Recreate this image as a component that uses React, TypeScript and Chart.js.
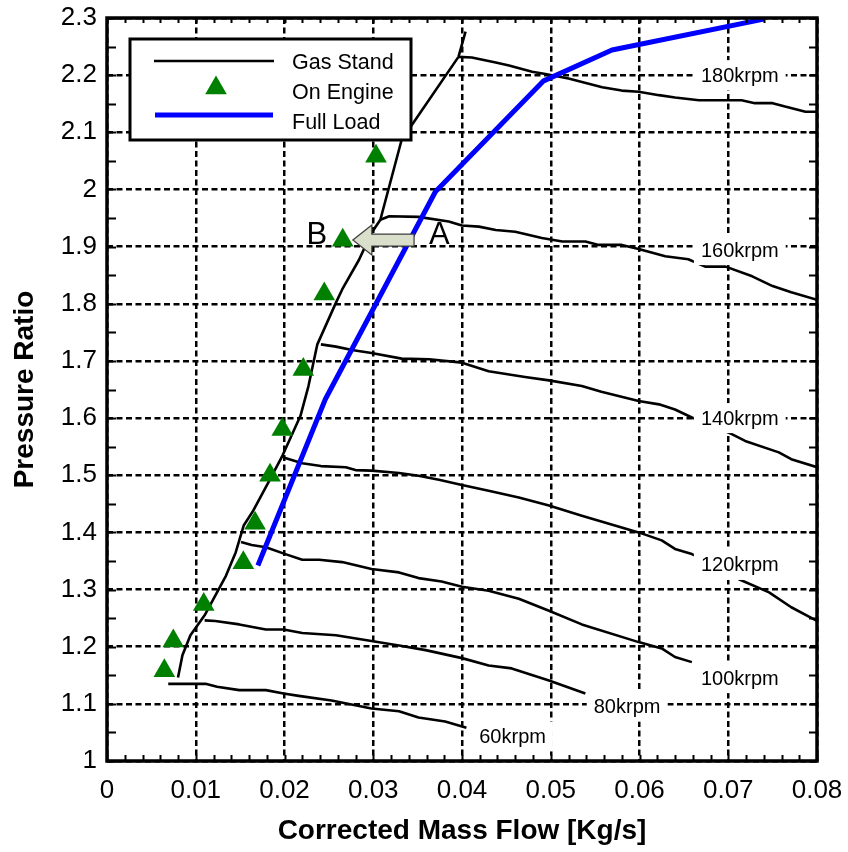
import React, { useEffect, useRef } from 'react';
import { Chart, registerables } from 'chart.js';

Chart.register(...registerables);

const FONT = '"Liberation Sans", Arial, Helvetica, sans-serif';

// ---- Data (x = corrected mass flow [kg/s], y = pressure ratio) ----
const surgeLine: [number, number][] = [
  [0.0080, 1.146], [0.0085, 1.185], [0.0094, 1.220], [0.0110, 1.255], [0.0134, 1.324],
  [0.0145, 1.365], [0.0154, 1.412], [0.0164, 1.436], [0.0182, 1.488], [0.0197, 1.532],
  [0.0218, 1.604], [0.0227, 1.656], [0.0237, 1.729], [0.0258, 1.802], [0.0265, 1.825],
  [0.0284, 1.877], [0.0298, 1.924], [0.0308, 1.947], [0.0332, 2.087], [0.0340, 2.105],
  [0.0396, 2.232], [0.0404, 2.276],
];

const speed60: [number, number][] = [
  [0.0069, 1.135], [0.0111, 1.135], [0.0124, 1.130], [0.0149, 1.124], [0.0179, 1.124],
  [0.0199, 1.118], [0.0216, 1.114], [0.0253, 1.106], [0.0298, 1.092], [0.0329, 1.087],
  [0.0351, 1.076], [0.0381, 1.069], [0.0405, 1.058],
];

const speed80: [number, number][] = [
  [0.0110, 1.246], [0.0122, 1.245], [0.0149, 1.239], [0.0179, 1.230], [0.0199, 1.230],
  [0.0220, 1.224], [0.0258, 1.220], [0.0298, 1.210], [0.0329, 1.202], [0.0359, 1.194],
  [0.0400, 1.180], [0.0430, 1.167], [0.0456, 1.162], [0.0498, 1.141], [0.0539, 1.118],
];

const speed100: [number, number][] = [
  [0.0151, 1.383], [0.0163, 1.378], [0.0179, 1.374], [0.0201, 1.362], [0.0220, 1.352],
  [0.0239, 1.352], [0.0265, 1.348], [0.0298, 1.336], [0.0329, 1.330], [0.0351, 1.320],
  [0.0377, 1.314], [0.0400, 1.305], [0.0430, 1.298], [0.0464, 1.284], [0.0498, 1.263],
  [0.0535, 1.239], [0.0599, 1.208], [0.0625, 1.197], [0.0640, 1.182], [0.0659, 1.173],
];

const speed120: [number, number][] = [
  [0.0199, 1.531], [0.0220, 1.521], [0.0241, 1.516], [0.0269, 1.514], [0.0280, 1.509],
  [0.0298, 1.508], [0.0329, 1.504], [0.0351, 1.499], [0.0374, 1.492], [0.0400, 1.483],
  [0.0430, 1.473], [0.0464, 1.461], [0.0498, 1.447], [0.0535, 1.429], [0.0599, 1.400],
  [0.0625, 1.386], [0.0640, 1.371], [0.0659, 1.362], [0.0690, 1.340], [0.0712, 1.318],
  [0.0746, 1.295], [0.0771, 1.269], [0.0800, 1.245],
];

const speed140: [number, number][] = [
  [0.0241, 1.729], [0.0258, 1.725], [0.0276, 1.719], [0.0298, 1.714], [0.0332, 1.704],
  [0.0363, 1.703], [0.0400, 1.697], [0.0430, 1.682], [0.0471, 1.672], [0.0498, 1.666],
  [0.0535, 1.656], [0.0557, 1.646], [0.0599, 1.630], [0.0622, 1.624], [0.0640, 1.615],
  [0.0659, 1.601], [0.0685, 1.585], [0.0704, 1.572], [0.0719, 1.560], [0.0757, 1.540],
  [0.0771, 1.528], [0.0800, 1.514],
];

const speed160: [number, number][] = [
  [0.0308, 1.947], [0.0318, 1.953], [0.0351, 1.952], [0.0385, 1.944], [0.0400, 1.937],
  [0.0419, 1.935], [0.0438, 1.929], [0.0460, 1.926], [0.0490, 1.915], [0.0513, 1.909],
  [0.0539, 1.909], [0.0554, 1.903], [0.0580, 1.903], [0.0599, 1.896], [0.0629, 1.883],
  [0.0655, 1.878], [0.0674, 1.865], [0.0697, 1.865], [0.0727, 1.848], [0.0750, 1.831],
  [0.0771, 1.820], [0.0800, 1.807],
];

const speed180: [number, number][] = [
  [0.0396, 2.232], [0.0411, 2.231], [0.0438, 2.222], [0.0453, 2.217], [0.0479, 2.206],
  [0.0494, 2.202], [0.0520, 2.194], [0.0558, 2.179], [0.0580, 2.173], [0.0599, 2.171],
  [0.0622, 2.165], [0.0640, 2.161], [0.0667, 2.156], [0.0715, 2.156], [0.0730, 2.151],
  [0.0750, 2.151], [0.0764, 2.145], [0.0787, 2.136], [0.0800, 2.136],
];

const fullLoad: [number, number][] = [
  [0.0170, 1.342], [0.0246, 1.633], [0.0370, 1.996], [0.0492, 2.190], [0.0569, 2.244], [0.0740, 2.298],
];

const onEngine: [number, number][] = [
  [0.00646, 1.158], [0.00747, 1.210], [0.0109, 1.274], [0.01536, 1.347], [0.01668, 1.416],
  [0.01837, 1.500], [0.01975, 1.580], [0.02212, 1.685], [0.02448, 1.817], [0.02656, 1.911],
  [0.03031, 2.058],
];

const speedLabels = ['180krpm', '160krpm', '140krpm', '120krpm', '100krpm', '80krpm', '60krpm'];
const speedLabelX = [0.0713, 0.0713, 0.0713, 0.0713, 0.0713, 0.0586, 0.0457];
const speedLabelY = [2.2, 1.894, 1.6, 1.343, 1.145, 1.095, 1.043];

const pointLabels = ['B', 'A'];
const pointLabelX = [0.02365, 0.03745];
const pointLabelY = [1.921, 1.921];

const arrowTail = [0.0346, 1.9115];
const arrowTip = [0.0277, 1.9115];

const legendLabels = ['Gas Stand', 'On Engine', 'Full Load'];

const toXY = (pts: [number, number][]) => pts.map(([x, y]) => ({ x, y }));

function drawTriangle(ctx: CanvasRenderingContext2D, cx: number, cy: number, r: number) {
  ctx.beginPath();
  let rad = 0;
  ctx.moveTo(cx + Math.sin(rad) * r, cy - Math.cos(rad) * r);
  rad += (2 * Math.PI) / 3;
  ctx.lineTo(cx + Math.sin(rad) * r, cy - Math.cos(rad) * r);
  rad += (2 * Math.PI) / 3;
  ctx.lineTo(cx + Math.sin(rad) * r, cy - Math.cos(rad) * r);
  ctx.closePath();
  ctx.fill();
}

const overlayPlugin = {
  id: 'overlay',
  afterDatasetsDraw(chart: any) {
    const { ctx, chartArea: ca, scales } = chart;
    const xs = scales.x;
    const ys = scales.y;
    ctx.save();

    // speed labels with white background
    ctx.font = `20px ${FONT}`;
    ctx.textAlign = 'center';
    ctx.textBaseline = 'middle';
    speedLabels.forEach((t, i) => {
      const px = xs.getPixelForValue(speedLabelX[i]);
      const py = ys.getPixelForValue(speedLabelY[i]);
      const w = ctx.measureText(t).width + 14;
      const h = 30;
      ctx.fillStyle = '#ffffff';
      ctx.fillRect(px - w / 2, py - h / 2, w, h);
      ctx.fillStyle = '#000000';
      ctx.fillText(t, px, py + 1);
    });

    // arrow A -> B
    const tx = xs.getPixelForValue(arrowTip[0]);
    const ty = ys.getPixelForValue(arrowTip[1]);
    const sx = xs.getPixelForValue(arrowTail[0]);
    const headLen = 19;
    const headHalf = 15;
    const shaftHalf = 6;
    ctx.beginPath();
    ctx.moveTo(tx, ty);
    ctx.lineTo(tx + headLen, ty - headHalf);
    ctx.lineTo(tx + headLen, ty - shaftHalf);
    ctx.lineTo(sx, ty - shaftHalf);
    ctx.lineTo(sx, ty + shaftHalf);
    ctx.lineTo(tx + headLen, ty + shaftHalf);
    ctx.lineTo(tx + headLen, ty + headHalf);
    ctx.closePath();
    ctx.fillStyle = '#d9dfca';
    ctx.fill();
    ctx.lineWidth = 1.2;
    ctx.strokeStyle = '#3c3c3c';
    ctx.stroke();

    // A / B letters
    ctx.font = `31px ${FONT}`;
    ctx.fillStyle = '#000';
    pointLabels.forEach((t, i) => {
      ctx.fillText(t, xs.getPixelForValue(pointLabelX[i]), ys.getPixelForValue(pointLabelY[i]) + 1);
    });

    // minor ticks (inward)
    ctx.strokeStyle = '#000';
    ctx.lineWidth = 2;
    ctx.beginPath();
    for (let i = 0; i <= 40; i++) {
      const px = Math.round(xs.getPixelForValue(i * 0.002)) + 0.5;
      ctx.moveTo(px, ca.bottom);
      ctx.lineTo(px, ca.bottom - 6);
      ctx.moveTo(px, ca.top);
      ctx.lineTo(px, ca.top + 5);
    }
    for (let i = 0; i <= 26; i++) {
      const py = Math.round(ys.getPixelForValue(1 + i * 0.05)) + 0.5;
      ctx.moveTo(ca.left, py);
      ctx.lineTo(ca.left + 9, py);
      ctx.moveTo(ca.right, py);
      ctx.lineTo(ca.right - 8, py);
    }
    ctx.stroke();

    // frame
    ctx.lineWidth = 3.5;
    ctx.strokeRect(ca.left, ca.top, ca.right - ca.left, ca.bottom - ca.top);

    // legend
    const lx = ca.left + 23;
    const ly = ca.top + 21;
    const lw = 281;
    const lh = 101;
    ctx.fillStyle = '#fff';
    ctx.fillRect(lx, ly, lw, lh);
    ctx.lineWidth = 3;
    ctx.strokeStyle = '#000';
    ctx.strokeRect(lx, ly, lw, lh);

    ctx.beginPath();
    ctx.lineWidth = 2.5;
    ctx.strokeStyle = '#000';
    ctx.moveTo(lx + 24, ly + 22);
    ctx.lineTo(lx + 144, ly + 22);
    ctx.stroke();

    ctx.fillStyle = '#008000';
    drawTriangle(ctx, lx + 86, ly + 49, 12.5);

    ctx.beginPath();
    ctx.lineWidth = 5;
    ctx.strokeStyle = '#0000ff';
    ctx.moveTo(lx + 25, ly + 76);
    ctx.lineTo(lx + 143, ly + 76);
    ctx.stroke();

    ctx.font = `21.5px ${FONT}`;
    ctx.fillStyle = '#000';
    ctx.textAlign = 'left';
    legendLabels.forEach((t, i) => {
      ctx.fillText(t, lx + 162, ly + 24 + i * 30);
    });

    ctx.restore();
  },
};

export default function App() {
  const ref = useRef<HTMLCanvasElement | null>(null);

  useEffect(() => {
    document.body.style.margin = '0';
    document.body.style.overflow = 'hidden';
    const canvas = ref.current;
    if (!canvas) return;

    const blackLine = (data: [number, number][], label: string) => ({
      label,
      data: toXY(data),
      showLine: true,
      borderColor: '#000',
      backgroundColor: '#000',
      borderWidth: 2.6,
      pointRadius: 0,
      pointHoverRadius: 0,
      borderJoinStyle: 'round',
      order: 2,
    });

    const chart = new Chart(canvas, {
      type: 'scatter',
      data: {
        datasets: [
          {
            label: legendLabels[1],
            data: toXY(onEngine),
            showLine: false,
            pointStyle: 'triangle',
            pointRadius: 12.5,
            pointHoverRadius: 12.5,
            backgroundColor: '#008000',
            borderColor: '#008000',
            borderWidth: 0,
            order: 0,
          },
          {
            label: legendLabels[2],
            data: toXY(fullLoad),
            showLine: true,
            borderColor: '#0000ff',
            backgroundColor: '#0000ff',
            borderWidth: 5,
            pointRadius: 0,
            pointHoverRadius: 0,
            borderJoinStyle: 'round',
            order: 1,
          },
          blackLine(surgeLine, legendLabels[0]),
          blackLine(speed60, '60krpm'),
          blackLine(speed80, '80krpm'),
          blackLine(speed100, '100krpm'),
          blackLine(speed120, '120krpm'),
          blackLine(speed140, '140krpm'),
          blackLine(speed160, '160krpm'),
          blackLine(speed180, '180krpm'),
        ] as any,
      },
      options: {
        responsive: false,
        animation: false,
        events: [],
        layout: { padding: { top: 18, right: 31, left: 0, bottom: 0 } },
        plugins: {
          legend: { display: false },
          tooltip: { enabled: false },
        },
        scales: {
          x: {
            type: 'linear',
            min: 0,
            max: 0.08,
            afterFit: (scale: any) => {
              scale.height = 91;
              scale.paddingLeft = 0;
              scale.paddingRight = 0;
            },
            border: { display: false, dash: [6, 3.5] },
            grid: { color: '#000', lineWidth: 2.5, drawTicks: false },
            ticks: {
              stepSize: 0.01,
              autoSkip: false,
              maxRotation: 0,
              padding: 14,
              color: '#000',
              font: { family: FONT, size: 26 },
              callback: (v: any) => Number(v).toFixed(2).replace(/\.?0+$/, ''),
            },
            title: {
              display: true,
              text: 'Corrected Mass Flow [Kg/s]',
              color: '#000',
              font: { family: FONT, size: 28, weight: 'bold' },
              padding: { top: 0, bottom: 4 },
            },
          },
          y: {
            type: 'linear',
            min: 1,
            max: 2.3,
            afterFit: (scale: any) => {
              scale.width = 107;
              scale.paddingTop = 0;
              scale.paddingBottom = 0;
            },
            border: { display: false, dash: [6, 3.5] },
            grid: { color: '#000', lineWidth: 2.5, drawTicks: false },
            ticks: {
              stepSize: 0.1,
              autoSkip: false,
              padding: 10,
              color: '#000',
              font: { family: FONT, size: 26 },
              callback: (v: any) => String(Number(Number(v).toFixed(1))),
            },
            title: {
              display: true,
              text: 'Pressure Ratio',
              color: '#000',
              font: { family: FONT, size: 28, weight: 'bold' },
              padding: { top: 8, bottom: 0 },
            },
          },
        },
      } as any,
      plugins: [overlayPlugin],
    });

    return () => chart.destroy();
  }, []);

  return (
    <div style={{ position: 'absolute', left: 0, top: 0, width: 848, height: 852, background: '#fff' }}>
      <canvas ref={ref} width={848} height={852} style={{ display: 'block' }} />
    </div>
  );
}
